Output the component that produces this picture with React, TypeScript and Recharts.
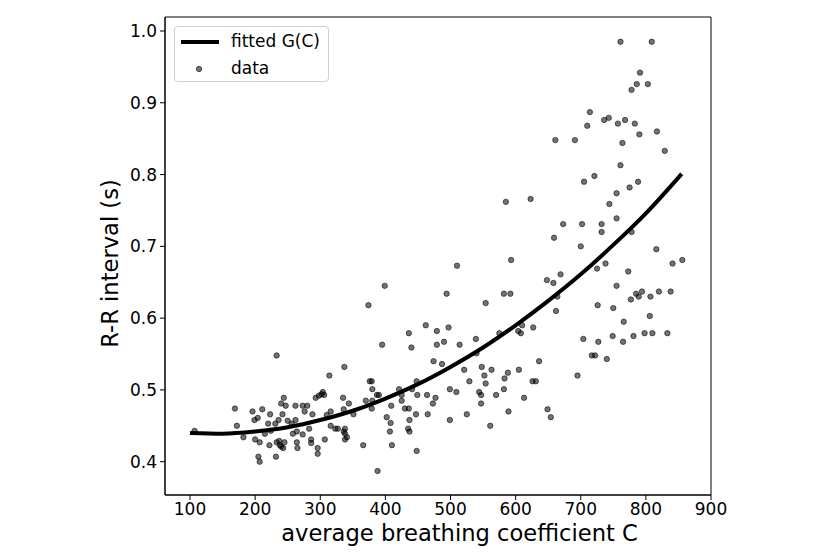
import React from "react";
import {
  ComposedChart,
  Scatter,
  Line,
  XAxis,
  YAxis,
  Legend,
  Label,
  ReferenceArea,
} from "recharts";

const dataC = [
  107, 169, 172, 182, 196, 211, 204, 199, 223, 220, 200, 207, 205, 207, 215, 224, 222, 231, 236, 242,
  240, 244, 247, 232, 233, 238, 240, 243, 245, 237, 250, 256, 262, 262, 273, 280, 276, 288, 258, 264,
  273, 283, 264, 265, 286, 286, 296, 296, 307, 293, 298, 302, 304, 306, 314, 316, 323, 327, 338, 336,
  338, 341, 338, 310, 316, 335, 336, 344, 351, 366, 233, 337, 510, 593, 399, 374, 494, 582, 592, 554,
  462, 479, 497, 436, 395, 440, 479, 490, 514, 539, 540, 575, 604, 608, 610, 627, 636, 474, 487, 521,
  548, 563, 588, 605, 552, 529, 583, 554, 626, 631, 376, 379, 380, 370, 380, 387, 390, 379, 409, 421,
  425, 425, 441, 448, 449, 464, 477, 473, 499, 509, 544, 547, 547, 570, 582, 613, 430, 436, 402, 408,
  437, 407, 435, 437, 447, 465, 499, 525, 589, 561, 410, 448, 388, 721, 705, 788, 775, 755, 585, 623,
  744, 755, 673, 702, 732, 732, 778, 659, 700, 816, 841, 856, 738, 725, 773, 669, 648, 658, 755, 664,
  662, 726, 750, 777, 785, 789, 794, 807, 820, 838, 806, 766, 749, 781, 798, 810, 833, 704, 727, 765,
  717, 722, 740, 695, 649, 654, 761, 809, 791, 786, 803, 778, 714, 736, 743, 757, 768, 783, 710, 817,
  790, 661, 691, 764, 829, 761,
];
const dataRR = [
  0.443, 0.474, 0.45, 0.434, 0.47, 0.473, 0.461, 0.458, 0.466, 0.453, 0.431, 0.427, 0.407, 0.4, 0.439, 0.443, 0.423, 0.453, 0.458, 0.466,
  0.481, 0.489, 0.478, 0.407, 0.427, 0.423, 0.421, 0.419, 0.427, 0.429, 0.457, 0.453, 0.458, 0.478, 0.478, 0.478, 0.47, 0.466, 0.439, 0.442,
  0.438, 0.446, 0.427, 0.419, 0.431, 0.426, 0.419, 0.411, 0.431, 0.489, 0.492, 0.494, 0.497, 0.493, 0.52, 0.45, 0.446, 0.446, 0.446, 0.442,
  0.439, 0.434, 0.431, 0.465, 0.47, 0.489, 0.473, 0.481, 0.466, 0.423, 0.548, 0.532, 0.673, 0.681, 0.645, 0.618, 0.634, 0.634, 0.634, 0.621,
  0.59, 0.582, 0.587, 0.579, 0.563, 0.559, 0.563, 0.567, 0.563, 0.571, 0.551, 0.579, 0.582, 0.579, 0.59, 0.587, 0.54, 0.54, 0.536, 0.528,
  0.532, 0.528, 0.524, 0.528, 0.52, 0.512, 0.516, 0.509, 0.512, 0.512, 0.512, 0.512, 0.501, 0.485, 0.485, 0.493, 0.493, 0.474, 0.478, 0.501,
  0.493, 0.485, 0.501, 0.512, 0.493, 0.493, 0.489, 0.481, 0.501, 0.497, 0.497, 0.493, 0.481, 0.493, 0.501, 0.489, 0.474, 0.474, 0.462, 0.454,
  0.458, 0.442, 0.446, 0.442, 0.466, 0.466, 0.458, 0.466, 0.47, 0.45, 0.423, 0.415, 0.387, 0.798, 0.79, 0.79, 0.782, 0.774, 0.762, 0.766,
  0.759, 0.739, 0.731, 0.731, 0.731, 0.72, 0.72, 0.712, 0.7, 0.696, 0.676, 0.681, 0.676, 0.669, 0.665, 0.661, 0.653, 0.649, 0.645, 0.63,
  0.61, 0.618, 0.614, 0.626, 0.634, 0.63, 0.637, 0.63, 0.637, 0.637, 0.603, 0.595, 0.575, 0.575, 0.579, 0.579, 0.579, 0.571, 0.567, 0.567,
  0.548, 0.548, 0.543, 0.52, 0.473, 0.462, 0.985, 0.985, 0.942, 0.926, 0.926, 0.918, 0.887, 0.876, 0.879, 0.871, 0.876, 0.871, 0.868, 0.86,
  0.856, 0.848, 0.848, 0.844, 0.833, 0.813,
];

// fitted curve G(C), read at regular C steps
const fitC = [100, 150, 200, 250, 300, 350, 400, 450, 500, 550, 600, 650, 700, 750, 800, 855];
const fitG = [0.44, 0.439, 0.442, 0.448, 0.458, 0.471, 0.488, 0.508, 0.532, 0.559, 0.59, 0.624, 0.661, 0.702, 0.746, 0.801];

const xTicks = [100, 200, 300, 400, 500, 600, 700, 800, 900];
const yTicks = [0.4, 0.5, 0.6, 0.7, 0.8, 0.9, 1.0];

const X_DOMAIN: [number, number] = [61.6, 900];
const Y_DOMAIN: [number, number] = [0.3536, 1.0195];
const FONT = "'DejaVu Sans', sans-serif";

const scatterData = dataC.map((x, i) => ({ x, y: dataRR[i] }));
const fitData = fitC.map((x, i) => ({ x, g: fitG[i] }));

const Dot = (props: any) => (
  <circle
    cx={props.cx}
    cy={props.cy}
    r={2.7}
    fill="#000"
    fillOpacity={0.55}
    stroke="#000"
    strokeOpacity={0.55}
    strokeWidth={1}
  />
);

const renderLegend = () => (
  <div
    style={{
      border: "1px solid #d0d0d0",
      borderRadius: 4,
      background: "rgba(255,255,255,0.8)",
      width: 155,
      height: 56,
      boxSizing: "border-box",
      fontFamily: FONT,
      fontSize: 17,
      color: "#000",
      position: "relative",
    }}
  >
    <svg width={40} height={50} style={{ position: "absolute", left: 5, top: 2 }}>
      <line x1={1} x2={39} y1={13} y2={13} stroke="#000" strokeWidth={4} />
      <circle
        cx={19}
        cy={40}
        r={2.7}
        fill="#000"
        fillOpacity={0.55}
        stroke="#000"
        strokeOpacity={0.55}
        strokeWidth={1}
      />
    </svg>
    <div style={{ position: "absolute", left: 56, top: 2, lineHeight: "24px" }}>fitted G(C)</div>
    <div style={{ position: "absolute", left: 56, top: 29, lineHeight: "24px" }}>data</div>
  </div>
);

const XLabel = () => (
  <text
    x={459.5}
    y={533}
    textAnchor="middle"
    dominantBaseline="central"
    fontSize={22.6}
    fontFamily={FONT}
    fill="#000"
  >
    average breathing coefficient C
  </text>
);

const YLabel = () => (
  <text
    x={110}
    y={263.5}
    transform="rotate(-90, 110, 263.5)"
    textAnchor="middle"
    dominantBaseline="central"
    fontSize={22.6}
    fontFamily={FONT}
    fill="#000"
  >
    R-R interval (s)
  </text>
);

const tickStyle = { fontSize: 17, fontFamily: FONT, fill: "#000" };

export default function App() {
  return (
    <div style={{ position: "absolute", left: 0, top: 0, background: "#fff" }}>
      <ComposedChart
        width={831}
        height={554}
        margin={{ top: 17, right: 120, bottom: 0, left: 0 }}
      >
        <XAxis
          dataKey="x"
          type="number"
          domain={X_DOMAIN}
          allowDataOverflow
          ticks={xTicks}
          height={59}
          tick={tickStyle}
          tickSize={5}
          tickMargin={3}
          axisLine={{ stroke: "#000" }}
          tickLine={{ stroke: "#000" }}
        >
          <Label content={XLabel} />
        </XAxis>
        <YAxis
          type="number"
          domain={Y_DOMAIN}
          allowDataOverflow
          ticks={yTicks}
          tickFormatter={(v: number) => v.toFixed(1)}
          width={165}
          tick={tickStyle}
          tickSize={5}
          tickMargin={3}
          axisLine={{ stroke: "#000" }}
          tickLine={{ stroke: "#000" }}
        >
          <Label content={YLabel} />
        </YAxis>
        <ReferenceArea
          x1={X_DOMAIN[0]}
          x2={X_DOMAIN[1]}
          y1={Y_DOMAIN[0]}
          y2={Y_DOMAIN[1]}
          fill="none"
          stroke="#000"
          strokeWidth={1}
          fillOpacity={0}
        />
        <Scatter
          name="data"
          data={scatterData}
          dataKey="y"
          shape={Dot}
          isAnimationActive={false}
        />
        <Line
          name="fitted G(C)"
          data={fitData}
          dataKey="g"
          type="monotone"
          stroke="#000"
          strokeWidth={4}
          dot={false}
          activeDot={false}
          isAnimationActive={false}
        />
        <Legend
          content={renderLegend}
          layout="horizontal"
          verticalAlign="middle"
          align="center"
          wrapperStyle={{ left: 174, top: 26, width: 155, height: 56 }}
        />
      </ComposedChart>
    </div>
  );
}
